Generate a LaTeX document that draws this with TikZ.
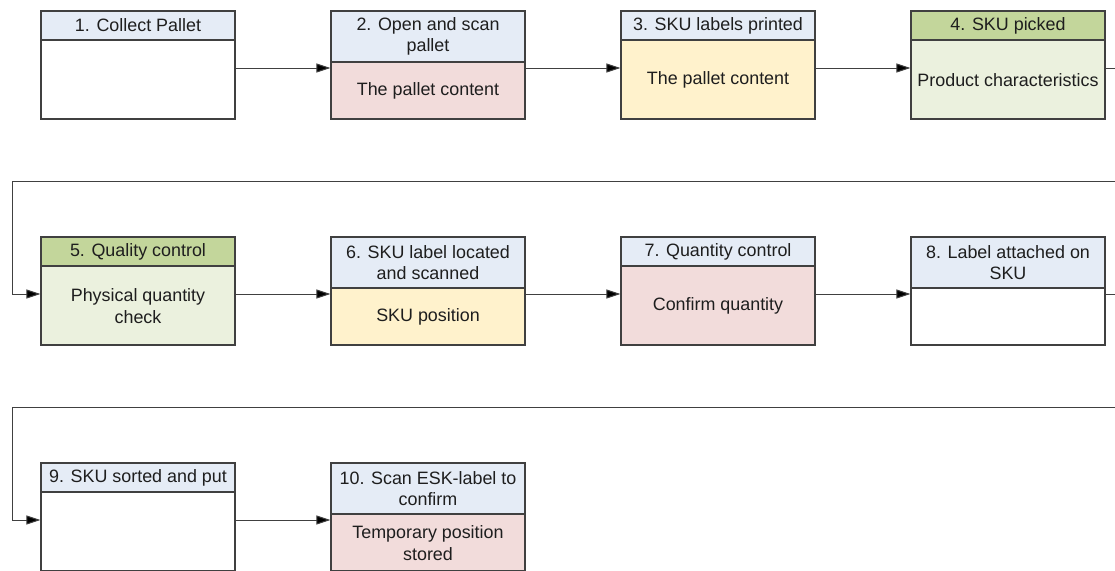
\documentclass[tikz,border=0pt]{standalone}
\usepackage{fontspec}
\setmainfont{Liberation Sans}
\usetikzlibrary{arrows.meta}
\definecolor{hblue}{HTML}{E5ECF6}
\definecolor{hgreen}{HTML}{C3D69B}
\definecolor{bgreen}{HTML}{EBF1DE}
\definecolor{bpink}{HTML}{F2DCDB}
\definecolor{byellow}{HTML}{FFF2CC}
\definecolor{boxline}{HTML}{404040}
\definecolor{txtcol}{HTML}{1E1E1E}
\tikzset{
  outer/.style={rectangle, draw=boxline, line width=1.2pt, minimum width=194pt, minimum height=108pt, inner sep=0pt},
  head/.style={rectangle, draw=boxline, line width=1.2pt, minimum width=194pt, inner sep=0pt, align=center,
    text=txtcol, font=\fontsize{17.9}{21.5}\selectfont},
  txt/.style={align=center, inner sep=0pt, text=txtcol, font=\fontsize{17.9}{21.5}\selectfont},
  conn/.style={draw=boxline, line width=1pt, -{Triangle[length=14pt,width=9pt,fill=black]}}
}
\newcommand{\procbox}[8]{%
  \node[outer, fill=#6] (#1) at (#2,#3) {};
  \node[head, fill=#5, minimum height=#4, anchor=north] (#1h) at (#1.north) {#7};
  \path (#1h.south) -- (#1.south) node[midway, txt] (#1b) {#8};
}
\begin{document}
\begin{tikzpicture}[x=1pt,y=-1pt]
\useasboundingbox (0,0) rectangle (1115,570);
\clip (0,0) rectangle (1115,570);
% row 1
\procbox{n1}{138}{65}{29pt}{hblue}{white}{1. Collect Pallet}{}
\procbox{n2}{428}{65}{51pt}{hblue}{bpink}{2. Open and scan\\pallet}{The pallet content}
\procbox{n3}{718}{65}{29pt}{hblue}{byellow}{3. SKU labels printed}{The pallet content}
\procbox{n4}{1008}{65}{29pt}{hgreen}{bgreen}{4. SKU picked}{Product characteristics}
% row 2
\procbox{n5}{138}{291}{29pt}{hgreen}{bgreen}{5. Quality control}{Physical quantity\\check}
\procbox{n6}{428}{291}{51pt}{hblue}{byellow}{6. SKU label located\\and scanned}{SKU position}
\procbox{n7}{718}{291}{29pt}{hblue}{bpink}{7. Quantity control}{Confirm quantity}
\procbox{n8}{1008}{291}{51pt}{hblue}{white}{8. Label attached on\\SKU}{}
% row 3
\procbox{n9}{138}{517}{29pt}{hblue}{white}{9. SKU sorted and put}{}
\procbox{n10}{428}{517}{51pt}{hblue}{bpink}{10. Scan ESK-label to\\confirm}{Temporary position\\stored}
% connectors
\draw[conn] ([yshift=-3pt]n1.east) -- ([yshift=-3pt]n2.west);
\draw[conn] ([yshift=-3pt]n2.east) -- ([yshift=-3pt]n3.west);
\draw[conn] ([yshift=-3pt]n3.east) -- ([yshift=-3pt]n4.west);
\coordinate (r1) at (1140,181);
\coordinate (l1) at (12,181);
\draw[conn] ([yshift=-3pt]n4.east) -| (r1) -- (l1) |- ([yshift=-3pt]n5.west);
\draw[conn] ([yshift=-3pt]n5.east) -- ([yshift=-3pt]n6.west);
\draw[conn] ([yshift=-3pt]n6.east) -- ([yshift=-3pt]n7.west);
\draw[conn] ([yshift=-3pt]n7.east) -- ([yshift=-3pt]n8.west);
\coordinate (r2) at (1140,407);
\coordinate (l2) at (12,407);
\draw[conn] ([yshift=-3pt]n8.east) -| (r2) -- (l2) |- ([yshift=-3pt]n9.west);
\draw[conn] ([yshift=-3pt]n9.east) -- ([yshift=-3pt]n10.west);
\end{tikzpicture}
\end{document}
